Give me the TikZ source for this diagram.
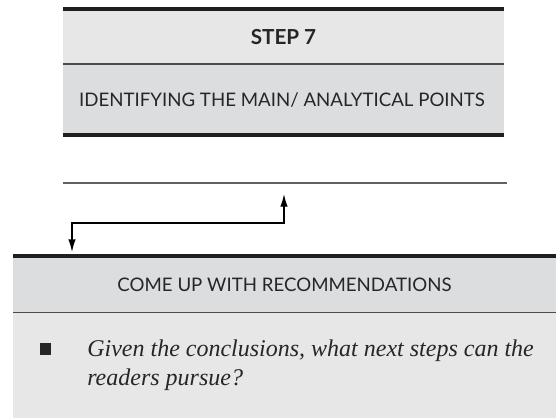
\documentclass[tikz,border=0pt]{standalone}
\usepackage{fontspec}
\setmainfont{Liberation Serif}
\setsansfont{Lato}
\usetikzlibrary{arrows.meta}

\definecolor{bandlight}{HTML}{E6E7E6}
\definecolor{banddark}{HTML}{DCDDDF}
\definecolor{rulegray}{HTML}{4A4A4A}

\tikzset{
	thickrule/.style={line width=3pt, color=black!88},
	thinrule/.style={line width=1pt, color=rulegray},
	heading/.style={font=\sffamily\fontsize{14}{17}\selectfont, text=black!85},
	linkarrow/.style={line width=1pt, {Latex[length=9.5pt,width=5.6pt]}-{Latex[length=9.5pt,width=5.6pt]}}
}

\begin{document}
\begin{tikzpicture}[x=0.75pt, y=-0.75pt]
	%%%%% START %%%%%
	\useasboundingbox (0,0) rectangle (556,418);
	
	% step box
	\fill[bandlight] (63,9) rectangle (504,64);
	\fill[banddark] (63,64) rectangle (504,134.5);
	\draw[thickrule] (63,9) -- (504,9);
	\draw[thinrule] (63,64) -- (504,64);
	\draw[thickrule] (63,134.5) -- (504,134.5);
	
	\node[heading, font=\sffamily\bfseries\fontsize{15.5}{18}\selectfont] (step) at (283.5,37.5) {STEP 7};
	\node[heading] (points) at (282,100) {IDENTIFYING THE MAIN/ ANALYTICAL POINTS};
	
	% separator line and link
	\draw[thinrule, color=black!62] (63,183) -- (507,183);
	\coordinate (rule) at (284,194);
	\coordinate (box) at (72,252);
	\draw[linkarrow] (box) -- ++(0,-29) -| (rule);
	
	% recommendations box
	\fill[banddark] (13,256) rectangle (556,312.5);
	\fill[bandlight] (13,312.5) rectangle (556,418);
	\draw[thickrule] (13,256) -- (556,256);
	\draw[thinrule] (13,312.5) -- (556,312.5);
	
	\node[heading] (recs) at (284.5,285) {COME UP WITH RECOMMENDATIONS};
	
	\fill[black!85] (39.5,343) rectangle (51,354.5);
	% base of a two-line node sits on its last line
	\node[anchor=base west, inner sep=0pt, align=left,
		font=\itshape\fontsize{18}{21.75}\selectfont, text=black!85] (question) at (87,385)
		{Given the conclusions, what next steps can the\\readers pursue?};
	
	%%%%% END %%%%%
\end{tikzpicture}
\end{document}
